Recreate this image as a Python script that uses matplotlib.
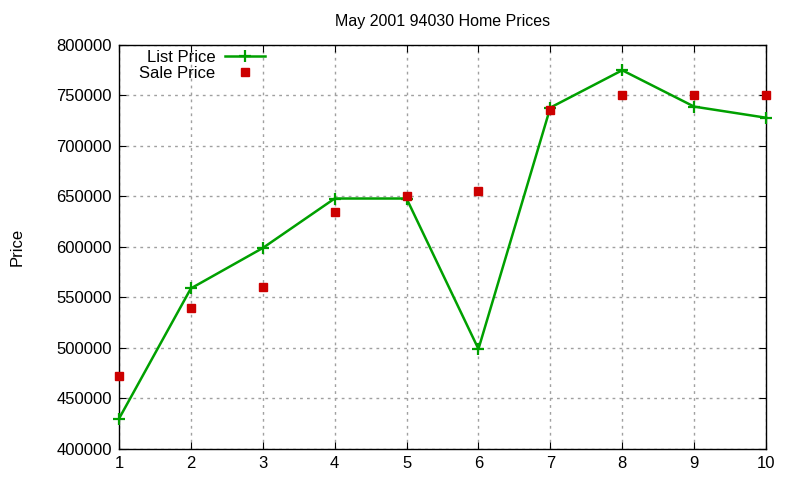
import matplotlib
matplotlib.use('Agg')
from matplotlib import pyplot as plt

# dados
months = [1, 2, 3, 4, 5, 6, 7, 8, 9, 10]
list_price = [430000, 559000, 599000, 648000, 648000, 499000, 738000, 775000, 739000, 728000]
sale_price = [472000, 540000, 560000, 635000, 650000, 655000, 736000, 750000, 750000, 750000]
yticks = [400000, 450000, 500000, 550000, 600000, 650000, 700000, 750000, 800000]

plt.rcParams['font.family'] = ['Liberation Sans', 'DejaVu Sans']

fig = plt.figure(figsize=(8, 4.8), dpi=100)
ax = fig.add_axes([0.14875, 0.0646, 0.80875, 0.84165])

ax.plot(months, list_price, color='#00a000', lw=1.8, marker='+', ms=8, mew=1.6,
        label='List Price', clip_on=False, zorder=3)
ax.plot(months, sale_price, ls='none', marker='s', ms=6, color='#cc0000',
        label='Sale Price', clip_on=False, zorder=4)

ax.set_xlim(1, 10)
ax.set_ylim(400000, 800000)
ax.set_xticks(months)
ax.set_yticks(yticks)
ax.set_yticklabels([str(v) for v in yticks])
ax.tick_params(direction='in', top=True, right=True, labelsize=12, length=5, pad=5)
ax.grid(True, color='#a0a0a0', ls=(0, (2, 3)), lw=1)

for s in ax.spines.values():
    s.set_linewidth(1)

ax.set_title('May 2001 94030 Home Prices', fontsize=11.5, pad=14)
fig.text(0.012, 0.485, 'Price', rotation=90, fontsize=12, va='center', ha='left')

leg = ax.legend(loc='upper left', bbox_to_anchor=(0.008, 1.025), frameon=False,
                markerfirst=False, fontsize=12, handlelength=2.4, labelspacing=0.05,
                handletextpad=0.6, numpoints=1)
for t in leg.get_texts():
    t.set_ha('right')

fig.savefig('out.png', dpi=100)
